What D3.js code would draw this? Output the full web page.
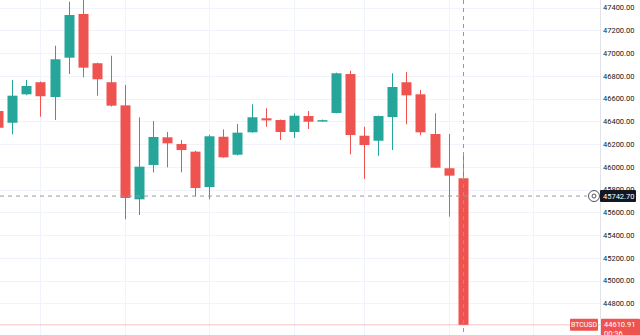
<!DOCTYPE html>
<html>
<head>
<meta charset="utf-8">
<script src="https://cdn.jsdelivr.net/npm/d3@7"></script>
<style>
  html, body { margin: 0; padding: 0; background: #ffffff; }
  svg { display: block; }
  text { font-family: Roboto, "Liberation Sans", Arial, sans-serif; }
</style>
</head>
<body>
<svg id="chart" width="640" height="335"></svg>
<script>
// ---- data ----
const candleIndex = d3.range(34);
const opens  = [46490, 46387, 46637, 46743, 46613, 46959, 47343, 46910, 46743, 46540, 45714, 46016, 46259, 46200, 46133, 45822, 46264, 46106, 46303, 46426, 46411, 46306, 46446, 46400, 46473, 46815, 46273, 46229, 46437, 46743, 46637, 46288, 45987, 45899];
const highs  = [46500, 46763, 46763, 46750, 47064, 47451, 47480, 46915, 46976, 46719, 46435, 46402, 46306, 46235, 46140, 46282, 46329, 46376, 46549, 46514, 46415, 46470, 46490, 46415, 46827, 46844, 46352, 46450, 46822, 46833, 46675, 46470, 46288, 46099];
const lows   = [46320, 46285, 46630, 46440, 46411, 46815, 46786, 46625, 46530, 45538, 45576, 45950, 45995, 45951, 45737, 45714, 46080, 46100, 46300, 46352, 46235, 46253, 46332, 46395, 46470, 46110, 45893, 46097, 46147, 46373, 46277, 45990, 45561, 44610.91];
const closes = [46343, 46625, 46710, 46620, 46945, 47334, 46871, 46769, 46537, 45726, 46001, 46262, 46206, 46147, 45813, 46268, 46083, 46300, 46435, 46408, 46306, 46449, 46396, 46410, 46822, 46279, 46191, 46446, 46701, 46628, 46303, 45992, 45922, 44610.91];
const priceTicks = [47400, 47200, 47000, 46800, 46600, 46400, 46200, 46000, 45800, 45600, 45400, 45200, 45000, 44800];
const timeGridIndex = [3, 9, 15, 21, 26, 32, 38];
const symbol = "BTCUSD";
const lastPrice = 44610.91;
const countdown = "00:36";
const crosshairPrice = 45742.70;
const crosshairIndex = 33;

// ---- layout ----
const W = 640, H = 335, plotRight = 600;
const UP = "#26a69a", DOWN = "#ef5350";

const x = d3.scaleLinear().domain([0, 33]).range([-1.8, 462.7]);
const y = d3.scaleLinear().domain([44800, 47400]).range([303.3, 7.5]);

const svg = d3.select("#chart");
svg.append("rect").attr("width", W).attr("height", H).attr("fill", "#ffffff");

const plot = svg.append("g");
plot.append("clipPath").attr("id", "clip").append("rect").attr("x", 0).attr("y", 0).attr("width", plotRight).attr("height", H);
const pg = plot.append("g").attr("clip-path", "url(#clip)");

// grid
pg.selectAll("line.hgrid").data(priceTicks).join("line")
  .attr("x1", 0).attr("x2", plotRight)
  .attr("y1", d => Math.round(y(d)) + 0.5).attr("y2", d => Math.round(y(d)) + 0.5)
  .attr("stroke", "#f0f3fa").attr("stroke-width", 1);
pg.selectAll("line.vgrid").data(timeGridIndex).join("line")
  .attr("x1", d => Math.round(x(d)) + 0.5).attr("x2", d => Math.round(x(d)) + 0.5)
  .attr("y1", 0).attr("y2", H)
  .attr("stroke", "#f0f3fa").attr("stroke-width", 1);

// last price line
pg.append("line")
  .attr("x1", 0).attr("x2", plotRight)
  .attr("y1", y(lastPrice)).attr("y2", y(lastPrice))
  .attr("stroke", DOWN).attr("stroke-opacity", 0.35).attr("stroke-width", 1);

// candles
const bodyW = 10;
const c = pg.selectAll("g.candle").data(candleIndex).join("g");
c.append("line")
  .attr("x1", i => Math.round(x(i)) + 0.5).attr("x2", i => Math.round(x(i)) + 0.5)
  .attr("y1", i => y(highs[i])).attr("y2", i => y(lows[i]))
  .attr("stroke", i => closes[i] >= opens[i] ? UP : DOWN)
  .attr("stroke-width", 1);
c.append("rect")
  .attr("x", i => Math.round(x(i)) + 0.5 - bodyW / 2)
  .attr("width", bodyW)
  .attr("y", i => y(Math.max(opens[i], closes[i])))
  .attr("height", i => Math.max(1.5, Math.abs(y(opens[i]) - y(closes[i]))))
  .attr("fill", i => closes[i] >= opens[i] ? UP : DOWN);

// crosshair
const cy = y(crosshairPrice);
const cx = Math.round(x(crosshairIndex)) + 0.5;
pg.append("line").attr("x1", cx).attr("x2", cx).attr("y1", 0).attr("y2", H)
  .attr("stroke", "#9598a1").attr("stroke-width", 1).attr("stroke-dasharray", "4,4");
pg.append("line").attr("x1", 0).attr("x2", 587).attr("y1", cy).attr("y2", cy)
  .attr("stroke", "#9598a1").attr("stroke-width", 1).attr("stroke-dasharray", "4,4");

// right axis
const axisG = svg.append("g").attr("transform", `translate(${plotRight},0)`);
axisG.append("rect").attr("x", 0).attr("y", 0).attr("width", W - plotRight).attr("height", H).attr("fill", "#ffffff");
const axis = d3.axisRight(y).tickValues(priceTicks).tickFormat(d3.format(".2f")).tickSize(0).tickPadding(3);
axisG.call(axis);
axisG.select(".domain").remove();
axisG.selectAll(".tick text").attr("fill", "#131722").attr("font-size", "7.5px")
  .attr("font-family", "Roboto, 'Liberation Sans', Arial, sans-serif");
axisG.append("line").attr("x1", 0.5).attr("x2", 0.5).attr("y1", 0).attr("y2", H)
  .attr("stroke", "#e0e3eb");

// crosshair price label
svg.append("circle").attr("cx", 594).attr("cy", cy).attr("r", 5.5).attr("fill", "#ffffff")
  .attr("stroke", "#50535e").attr("stroke-width", 1);
svg.append("circle").attr("cx", 594).attr("cy", cy).attr("r", 2).attr("fill", "none")
  .attr("stroke", "#50535e").attr("stroke-width", 1);
svg.append("rect").attr("x", 600).attr("y", cy - 6).attr("width", 36).attr("height", 12)
  .attr("fill", "#131722").attr("rx", 1);
svg.append("text").attr("x", 603).attr("y", cy).attr("dy", "0.35em")
  .attr("fill", "#ffffff").attr("font-size", "7.5px").text(d3.format(".2f")(crosshairPrice));

// last price labels
const ly = y(lastPrice);
svg.append("rect").attr("x", 570).attr("y", ly - 6).attr("width", 28).attr("height", 12)
  .attr("fill", DOWN).attr("rx", 1);
svg.append("text").attr("x", 584).attr("y", ly).attr("dy", "0.35em").attr("text-anchor", "middle")
  .attr("fill", "#ffffff").attr("font-size", "7px").text(symbol);
svg.append("rect").attr("x", 601).attr("y", ly - 6).attr("width", 39).attr("height", 22)
  .attr("fill", DOWN).attr("rx", 1);
svg.append("text").attr("x", 604).attr("y", ly).attr("dy", "0.35em")
  .attr("fill", "#ffffff").attr("font-size", "7.5px").text(d3.format(".2f")(lastPrice));
svg.append("text").attr("x", 604).attr("y", ly + 9).attr("dy", "0.35em")
  .attr("fill", "#ffffff").attr("font-size", "7.5px").text(countdown);
</script>
</body>
</html>
